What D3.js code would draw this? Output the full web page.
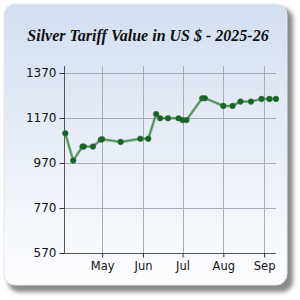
<!DOCTYPE html>
<html>
<head>
<meta charset="utf-8">
<script src="https://cdn.jsdelivr.net/npm/d3@7"></script>
<style>
  body { margin: 0; background: #fff; }
  svg { display: block; }
</style>
</head>
<body>
<svg width="300" height="300"></svg>
<script>
// data
var dates = ['2025-04-03', '2025-04-09', '2025-04-16', '2025-04-17', '2025-04-24', '2025-04-30', '2025-05-01',
    '2025-05-15', '2025-05-30', '2025-06-05', '2025-06-11', '2025-06-14', '2025-06-20', '2025-06-28',
    '2025-07-01', '2025-07-04', '2025-07-16', '2025-07-18', '2025-08-01', '2025-08-08', '2025-08-14',
    '2025-08-22', '2025-08-30', '2025-09-05', '2025-09-10'];
var values = [1103, 982, 1044, 1044, 1044, 1075, 1077,
    1065, 1079, 1079, 1189, 1170, 1170, 1170,
    1162, 1162, 1259, 1259, 1225, 1225, 1244,
    1244, 1256, 1256, 1256];
var yTicks = [570, 770, 970, 1170, 1370];
var monthTicks = ['2025-05-01', '2025-06-01', '2025-07-01', '2025-08-01', '2025-09-01'];
var title = 'Silver Tariff Value in US $ - 2025-26';

var parse = d3.utcParse('%Y-%m-%d');
var data = dates.map((d, i) => ({ date: parse(d), value: values[i] }));

var svg = d3.select('svg');

// panel background
var defs = svg.append('defs');
var grad = defs.append('linearGradient').attr('id', 'bg').attr('x1', 0).attr('y1', 0).attr('x2', 0).attr('y2', 1);
grad.append('stop').attr('offset', '0%').attr('stop-color', '#d3deef');
grad.append('stop').attr('offset', '100%').attr('stop-color', '#fdfeff');
var blur = defs.append('filter').attr('id', 'blur').attr('x', '-10%').attr('y', '-10%').attr('width', '120%').attr('height', '120%');
blur.append('feGaussianBlur').attr('stdDeviation', 2);

svg.append('rect')
    .attr('x', 8).attr('y', 8).attr('width', 285).attr('height', 284)
    .attr('rx', 11)
    .attr('fill', '#8a8a8a')
    .attr('filter', 'url(#blur)');
svg.append('rect')
    .attr('x', 4).attr('y', 4).attr('width', 283).attr('height', 281)
    .attr('rx', 11)
    .attr('fill', 'url(#bg)')
    .attr('stroke', '#e4e8ee');

// title
svg.append('text')
    .attr('x', 148).attr('y', 41)
    .attr('text-anchor', 'middle')
    .style('font-family', '"Liberation Serif", "Times New Roman", serif')
    .style('font-style', 'italic')
    .style('font-weight', 'bold')
    .style('font-size', '16px')
    .attr('fill', '#111')
    .text(title);

// scales
var x = d3.scaleUtc()
    .domain([parse('2025-04-02'), parse('2025-09-10')])
    .range([64, 276]);
var y = d3.scaleLinear()
    .domain([570, 1400])
    .range([253.3, 66.5]);

// grid
svg.append('g').selectAll('line')
    .data(yTicks)
    .enter().append('line')
    .attr('x1', 64).attr('x2', 276)
    .attr('y1', d => Math.round(y(d)) + 0.5).attr('y2', d => Math.round(y(d)) + 0.5)
    .attr('stroke', '#a9adb3');
svg.append('g').selectAll('line')
    .data(monthTicks)
    .enter().append('line')
    .attr('x1', d => Math.round(x(parse(d))) + 0.5).attr('x2', d => Math.round(x(parse(d))) + 0.5)
    .attr('y1', 66).attr('y2', 253)
    .attr('stroke', '#a9adb3');

// axes
var yAxis = d3.axisLeft(y).tickValues(yTicks).tickFormat(d3.format('d')).tickSize(5).tickPadding(3);
var gy = svg.append('g')
    .attr('transform', 'translate(64.5,0)')
    .call(yAxis);
gy.select('.domain').attr('d', 'M0,66V' + y(570)).attr('stroke', '#555');
gy.selectAll('.tick line').attr('stroke', '#333');
gy.selectAll('.tick').attr('transform', d => 'translate(0,' + (Math.round(y(d)) + 0.5) + ')');
gy.selectAll('text')
    .style('font-family', '"DejaVu Sans", Verdana, sans-serif')
    .style('font-size', '12px')
    .attr('fill', '#111');

var xAxis = d3.axisBottom(x)
    .tickValues(monthTicks.map(parse))
    .tickFormat(d3.utcFormat('%b'))
    .tickSize(4).tickPadding(4);
var gx = svg.append('g')
    .attr('transform', 'translate(0,253.5)')
    .call(xAxis);
gx.select('.domain').attr('d', 'M64,0H276').attr('stroke', '#555');
gx.selectAll('.tick line').attr('stroke', '#333');
gx.selectAll('text')
    .style('font-family', '"DejaVu Sans", Verdana, sans-serif')
    .style('font-size', '11.5px')
    .attr('fill', '#111');

// line
var line = d3.line()
    .x(d => x(d.date))
    .y(d => y(d.value));

svg.append('path')
    .datum(data)
    .attr('d', line)
    .attr('fill', 'none')
    .attr('stroke', '#7d8a86')
    .attr('stroke-opacity', 0.6)
    .attr('stroke-width', 3);
svg.append('path')
    .datum(data)
    .attr('d', line)
    .attr('fill', 'none')
    .attr('stroke', '#2f9a3a')
    .attr('stroke-width', 1.3);

svg.selectAll('circle.pt')
    .data(data)
    .enter().append('circle')
    .attr('class', 'pt')
    .attr('cx', d => x(d.date))
    .attr('cy', d => y(d.value))
    .attr('r', 2.8)
    .attr('fill', '#0c6a1e')
    .attr('stroke', '#4b5a55')
    .attr('stroke-opacity', 0.7)
    .attr('stroke-width', 0.8);
</script>
</body>
</html>
